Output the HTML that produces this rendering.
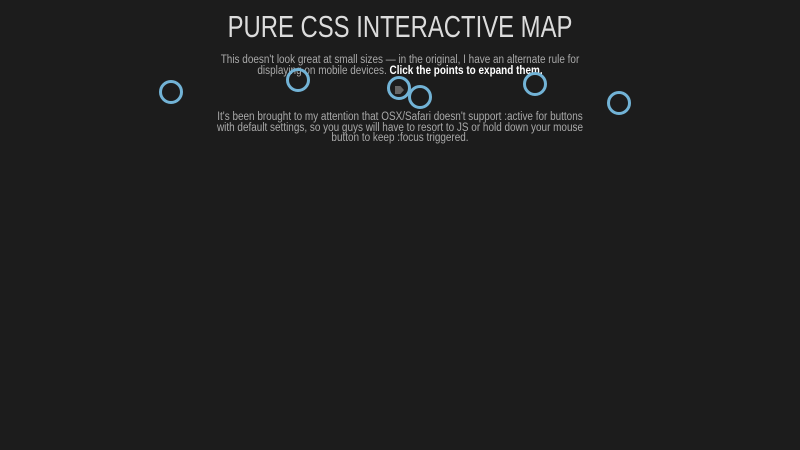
<!DOCTYPE html>
<html><head><style>
body{margin:0;width:800px;height:450px;background:#1c1c1c;overflow:hidden;font-family:"Liberation Sans",sans-serif;position:relative}
h1{position:absolute;top:9px;left:0;width:800px;margin:0;text-align:center;font-weight:normal;font-size:31px;letter-spacing:0;color:#dcdcdc;transform:scaleX(0.77);transform-origin:400px 0}
p{position:absolute;left:0;width:800px;margin:0;text-align:center;font-size:11.5px;line-height:10.5px;color:#a9a9a9;transform:scaleX(0.865);transform-origin:400px 0}
b{color:#fff}
.c{position:absolute;width:18px;height:18px;border:3px solid #72b3d6;border-radius:50%;box-sizing:content-box}
</style></head><body>
<h1>PURE CSS INTERACTIVE MAP</h1>
<p style="top:55px">This doesn't look great at small sizes — in the original, I have an alternate rule for<br>displaying on mobile devices. <b>Click the points to expand them.</b></p>
<p style="top:112px">It's been brought to my attention that OSX/Safari doesn't support :active for buttons<br>with default settings, so you guys will have to resort to JS or hold down your mouse<br>button to keep :focus triggered.</p>
<div style="position:absolute;left:395px;top:86px;width:9px;height:8px;background:#666;clip-path:polygon(0 0,60% 0,100% 50%,60% 100%,0 100%)"></div>
<div class="c" style="left:159px;top:80px"></div>
<div class="c" style="left:286px;top:68px"></div>
<div class="c" style="left:387px;top:76px"></div>
<div class="c" style="left:408px;top:85px"></div>
<div class="c" style="left:523px;top:72px"></div>
<div class="c" style="left:607px;top:91px"></div>
</body></html>
